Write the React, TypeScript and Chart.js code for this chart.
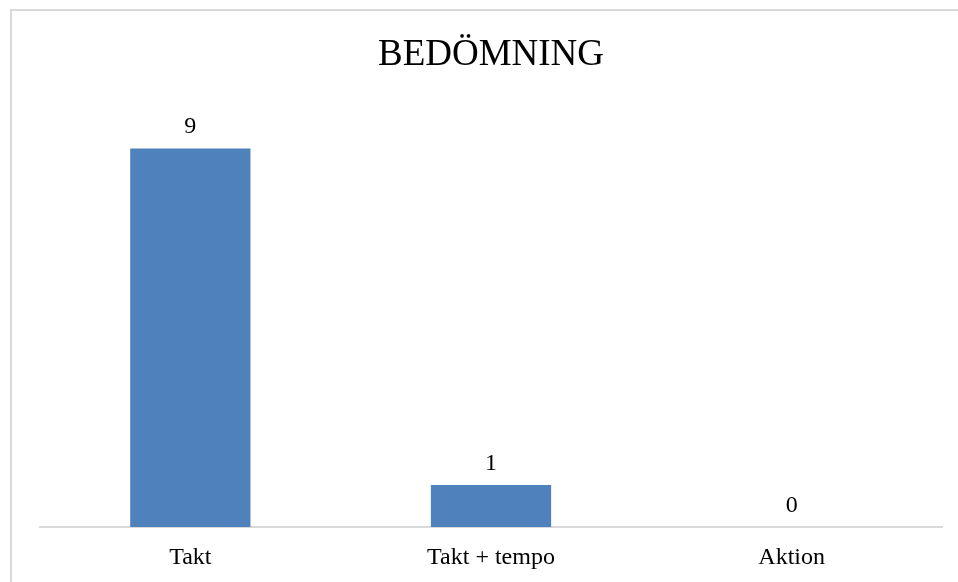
import React, { useEffect, useRef } from "react";
import { Chart, registerables } from "chart.js";

Chart.register(...registerables);

const categories = ["Takt", "Takt + tempo", "Aktion"];
const values = [9, 1, 0];
const titleText = "BEDÖMNING";

const FONT = "'Liberation Serif', 'Times New Roman', serif";

const valueLabels = {
  id: "valueLabels",
  afterDatasetsDraw(chart: any) {
    const ctx = chart.ctx;
    const meta = chart.getDatasetMeta(0);
    ctx.save();
    ctx.font = `24px ${FONT}`;
    ctx.fillStyle = "#000000";
    ctx.textAlign = "center";
    ctx.textBaseline = "alphabetic";
    meta.data.forEach((bar: any, i: number) => {
      ctx.fillText(String(values[i]), bar.x, bar.y - 15);
    });
    ctx.restore();
  },
};

export default function App() {
  const ref = useRef<HTMLCanvasElement | null>(null);
  useEffect(() => {
    if (!ref.current) return;
    const chart = new Chart(ref.current, {
      type: "bar",
      data: {
        labels: categories,
        datasets: [
          {
            data: values,
            backgroundColor: "#4F81BD",
            barPercentage: 0.4,
            categoryPercentage: 1,
          },
        ],
      },
      options: {
        animation: false,
        responsive: false,
        maintainAspectRatio: false,
        layout: { padding: { left: 40, right: 16, top: 0, bottom: -7 } },
        plugins: {
          legend: { display: false },
          tooltip: { enabled: false },
          title: {
            display: true,
            text: titleText,
            color: "#000000",
            font: { family: FONT, size: 37, weight: "normal" },
            padding: { top: 33, bottom: 29 },
          },
        },
        scales: {
          x: {
            grid: { display: false, drawTicks: false },
            border: { display: true, color: "#d9d9d9", width: 2 },
            ticks: {
              color: "#000000",
              font: { family: FONT, size: 24, lineHeight: 1 },
              padding: 19,
            },
          },
          y: {
            display: false,
            min: 0,
            max: 10,
          },
        },
      },
      plugins: [valueLabels],
    });
    return () => chart.destroy();
  }, []);
  return (
    <div style={{ position: "fixed", left: 0, top: 0, width: 958, height: 582, background: "#fff", overflow: "hidden" }}>
      <div
        style={{
          position: "absolute",
          left: 10,
          top: 9,
          width: 1000,
          height: 700,
          borderTop: "2px solid #d9d9d9",
          borderLeft: "2px solid #d9d9d9",
        }}
      />
      <canvas ref={ref} width={958} height={582} style={{ position: "absolute", left: 0, top: 0 }} />
    </div>
  );
}
